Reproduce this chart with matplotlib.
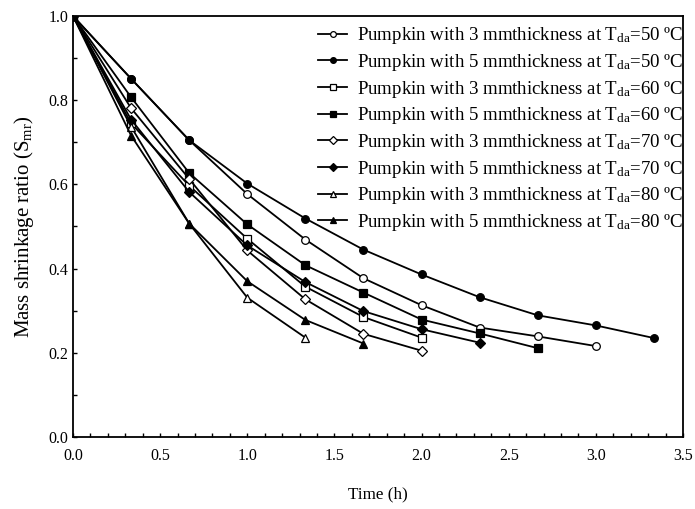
import matplotlib
matplotlib.use("Agg")
import matplotlib.pyplot as plt
from matplotlib.ticker import MultipleLocator

plt.rcParams["font.family"] = ["Liberation Serif", "DejaVu Serif"]
plt.rcParams["mathtext.fontset"] = "custom"
plt.rcParams["mathtext.rm"] = "Liberation Serif"
plt.rcParams["mathtext.it"] = "Liberation Serif"

# Datos
t = [0, 1/3, 2/3, 1.0, 4/3, 5/3, 2.0, 7/3, 8/3, 3.0, 10/3]

s3_50 = [1.0, 0.851, 0.705, 0.577, 0.469, 0.377, 0.313, 0.260, 0.239, 0.216]
s5_50 = [1.0, 0.851, 0.705, 0.602, 0.519, 0.445, 0.386, 0.332, 0.289, 0.265, 0.235]
s3_60 = [1.0, 0.745, 0.597, 0.471, 0.357, 0.285, 0.236]
s5_60 = [1.0, 0.807, 0.627, 0.505, 0.408, 0.343, 0.279, 0.246, 0.211]
s3_70 = [1.0, 0.781, 0.613, 0.443, 0.327, 0.245, 0.205]
s5_70 = [1.0, 0.754, 0.582, 0.455, 0.368, 0.299, 0.256, 0.224]
s3_80 = [1.0, 0.737, 0.507, 0.331, 0.236]
s5_80 = [1.0, 0.716, 0.507, 0.370, 0.278, 0.222]

series = [s3_50, s5_50, s3_60, s5_60, s3_70, s5_70, s3_80, s5_80]
markers = ["o", "o", "s", "s", "D", "D", "^", "^"]
fills = ["white", "black"] * 4
mm = ["3", "5"] * 4
temps = ["50", "50", "60", "60", "70", "70", "80", "80"]
msizes = [5.5, 5.5, 5.5, 5.5, 5, 5, 5.5, 5.5]

fig = plt.figure(figsize=(6.95, 5.09), dpi=100)
ax = fig.add_axes([73/695, 1 - 437/509, 610/695, 421/509])

for s, m, f, d, T, ms in zip(series, markers, fills, mm, temps, msizes):
    ax.plot(t[:len(s)], s, color="black", lw=1.3, marker=m, ms=ms,
            mfc=f, mec="black", mew=0.9,
            label="Pumpkin with %s mmthickness at T$_{\\mathrm{da}}$=%s ºC" % (d, T))

ax.set_xlim(0, 3.5)
ax.set_ylim(0, 1.0)
ax.xaxis.set_major_locator(MultipleLocator(0.5))
ax.xaxis.set_minor_locator(MultipleLocator(0.1))
ax.yaxis.set_major_locator(MultipleLocator(0.2))
ax.yaxis.set_minor_locator(MultipleLocator(0.1))
ax.tick_params(which="both", direction="in", length=3, width=1, labelsize=11.5)
ax.tick_params(axis="x", pad=8)
ax.xaxis.set_major_formatter(plt.FormatStrFormatter("%.1f"))
ax.yaxis.set_major_formatter(plt.FormatStrFormatter("%.1f"))
for sp in ax.spines.values():
    sp.set_linewidth(1.3)

ax.set_xlabel("Time (h)", fontsize=12.3, labelpad=16)
ax.set_ylabel("Mass shrinkage ratio (S$_{\\mathrm{mr}}$)", fontsize=15, labelpad=9)

ax.legend(loc="upper right", frameon=False, fontsize=13.6, handlelength=1.55,
          labelspacing=0.3, handletextpad=0.5, borderaxespad=0.0, borderpad=0.0,
          bbox_to_anchor=(1.0, 0.978), markerscale=0.75)

fig.savefig("out.png", dpi=100)
